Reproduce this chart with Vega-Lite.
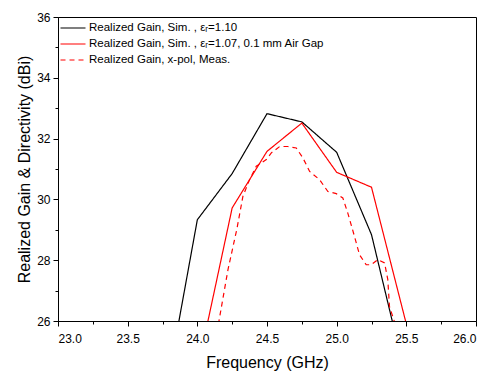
{
  "$schema": "https://vega.github.io/schema/vega-lite/v6.json",
  "width": 418,
  "height": 304,
  "autosize": {"type": "none"},
  "padding": {"left": 58, "top": 17, "right": 18, "bottom": 50},
  "background": "white",
  "config": {
    "font": "Liberation Sans",
    "view": {"stroke": "black", "strokeWidth": 1},
    "axis": {
      "grid": false,
      "domainColor": "black",
      "domainWidth": 1,
      "tickColor": "black",
      "tickWidth": 1,
      "tickSize": 5,
      "labelColor": "black",
      "labelFont": "Liberation Sans",
      "labelFontSize": 12,
      "titleColor": "black",
      "titleFont": "Liberation Sans",
      "titleFontSize": 16,
      "titleFontWeight": "normal"
    },
    "legend": {
      "labelFont": "Liberation Sans",
      "labelFontSize": 11.5,
      "labelColor": "black",
      "labelLimit": 400
    }
  },
  "data": {
    "values": [
      {"series": "Realized Gain, Sim. , εᵣ=1.10", "freq": 23.75, "gain": 23.03},
      {"series": "Realized Gain, Sim. , εᵣ=1.10", "freq": 24.0, "gain": 29.33},
      {"series": "Realized Gain, Sim. , εᵣ=1.10", "freq": 24.25, "gain": 30.85},
      {"series": "Realized Gain, Sim. , εᵣ=1.10", "freq": 24.5, "gain": 32.82},
      {"series": "Realized Gain, Sim. , εᵣ=1.10", "freq": 24.75, "gain": 32.55},
      {"series": "Realized Gain, Sim. , εᵣ=1.10", "freq": 25.0, "gain": 31.55},
      {"series": "Realized Gain, Sim. , εᵣ=1.10", "freq": 25.25, "gain": 28.84},
      {"series": "Realized Gain, Sim. , εᵣ=1.10", "freq": 25.5, "gain": 24.07},
      {"series": "Realized Gain, Sim. , εᵣ=1.07, 0.1 mm Air Gap", "freq": 24.0, "gain": 24.37},
      {"series": "Realized Gain, Sim. , εᵣ=1.07, 0.1 mm Air Gap", "freq": 24.25, "gain": 29.72},
      {"series": "Realized Gain, Sim. , εᵣ=1.07, 0.1 mm Air Gap", "freq": 24.5, "gain": 31.58},
      {"series": "Realized Gain, Sim. , εᵣ=1.07, 0.1 mm Air Gap", "freq": 24.75, "gain": 32.51},
      {"series": "Realized Gain, Sim. , εᵣ=1.07, 0.1 mm Air Gap", "freq": 25.0, "gain": 30.89},
      {"series": "Realized Gain, Sim. , εᵣ=1.07, 0.1 mm Air Gap", "freq": 25.25, "gain": 30.4},
      {"series": "Realized Gain, Sim. , εᵣ=1.07, 0.1 mm Air Gap", "freq": 25.5, "gain": 25.9},
      {"series": "Realized Gain, x-pol, Meas.", "freq": 24.14, "gain": 25.6},
      {"series": "Realized Gain, x-pol, Meas.", "freq": 24.22, "gain": 27.69},
      {"series": "Realized Gain, x-pol, Meas.", "freq": 24.284, "gain": 29.03},
      {"series": "Realized Gain, x-pol, Meas.", "freq": 24.327, "gain": 30.1},
      {"series": "Realized Gain, x-pol, Meas.", "freq": 24.375, "gain": 30.65},
      {"series": "Realized Gain, x-pol, Meas.", "freq": 24.423, "gain": 31.09},
      {"series": "Realized Gain, x-pol, Meas.", "freq": 24.495, "gain": 31.31},
      {"series": "Realized Gain, x-pol, Meas.", "freq": 24.531, "gain": 31.53},
      {"series": "Realized Gain, x-pol, Meas.", "freq": 24.591, "gain": 31.74},
      {"series": "Realized Gain, x-pol, Meas.", "freq": 24.65, "gain": 31.74},
      {"series": "Realized Gain, x-pol, Meas.", "freq": 24.71, "gain": 31.69},
      {"series": "Realized Gain, x-pol, Meas.", "freq": 24.758, "gain": 31.36},
      {"series": "Realized Gain, x-pol, Meas.", "freq": 24.806, "gain": 30.92},
      {"series": "Realized Gain, x-pol, Meas.", "freq": 24.877, "gain": 30.65},
      {"series": "Realized Gain, x-pol, Meas.", "freq": 24.937, "gain": 30.26},
      {"series": "Realized Gain, x-pol, Meas.", "freq": 24.997, "gain": 30.19},
      {"series": "Realized Gain, x-pol, Meas.", "freq": 25.044, "gain": 30.05},
      {"series": "Realized Gain, x-pol, Meas.", "freq": 25.08, "gain": 29.55},
      {"series": "Realized Gain, x-pol, Meas.", "freq": 25.128, "gain": 28.78},
      {"series": "Realized Gain, x-pol, Meas.", "freq": 25.164, "gain": 28.18},
      {"series": "Realized Gain, x-pol, Meas.", "freq": 25.212, "gain": 27.85},
      {"series": "Realized Gain, x-pol, Meas.", "freq": 25.248, "gain": 27.85},
      {"series": "Realized Gain, x-pol, Meas.", "freq": 25.296, "gain": 28.02},
      {"series": "Realized Gain, x-pol, Meas.", "freq": 25.344, "gain": 27.91},
      {"series": "Realized Gain, x-pol, Meas.", "freq": 25.367, "gain": 27.36},
      {"series": "Realized Gain, x-pol, Meas.", "freq": 25.379, "gain": 26.48},
      {"series": "Realized Gain, x-pol, Meas.", "freq": 25.42, "gain": 25.9}
    ]
  },
  "layer": [
    {
      "mark": {"type": "line", "clip": true, "strokeWidth": 1.2},
      "encoding": {
        "x": {
          "field": "freq", "type": "quantitative",
          "scale": {"domain": [23, 26], "nice": false, "zero": false},
          "axis": {
            "orient": "bottom",
            "title": "Frequency (GHz)",
            "values": [23, 23.5, 24, 24.5, 25, 25.5, 26],
            "format": ".1f",
            "labelPadding": 7,
            "titlePadding": 10
          }
        },
        "y": {
          "field": "gain", "type": "quantitative",
          "scale": {"domain": [26, 36], "nice": false, "zero": false},
          "axis": {
            "orient": "left",
            "title": "Realized Gain & Directivity (dBi)",
            "values": [26, 28, 30, 32, 34, 36],
            "format": "d",
            "labelPadding": 3,
            "titlePadding": 4
          }
        },
        "color": {
          "field": "series", "type": "nominal",
          "scale": {
            "domain": ["Realized Gain, Sim. , εᵣ=1.10", "Realized Gain, Sim. , εᵣ=1.07, 0.1 mm Air Gap", "Realized Gain, x-pol, Meas."],
            "range": ["#000000", "#ff0000", "#ff0000"]
          },
          "legend": {
            "title": null,
            "orient": "none",
            "legendX": 9,
            "legendY": 5,
            "symbolType": "M-2.5,0H2.5",
            "symbolSize": 100,
            "symbolStrokeWidth": 1.2,
            "labelOffset": 10,
            "rowPadding": 4,
            "padding": 0
          }
        },
        "strokeDash": {
          "field": "series", "type": "nominal",
          "scale": {
            "domain": ["Realized Gain, Sim. , εᵣ=1.10", "Realized Gain, Sim. , εᵣ=1.07, 0.1 mm Air Gap", "Realized Gain, x-pol, Meas."],
            "range": [[1, 0], [1, 0], [5, 4]]
          },
          "legend": {
            "title": null,
            "orient": "none",
            "legendX": 9,
            "legendY": 5,
            "symbolType": "M-2.5,0H2.5",
            "symbolSize": 100,
            "symbolStrokeWidth": 1.2,
            "labelOffset": 10,
            "rowPadding": 4,
            "padding": 0
          }
        }
      }
    },
    {
      "mark": {"type": "line", "strokeOpacity": 0, "clip": true},
      "encoding": {
        "x": {
          "field": "freq", "type": "quantitative",
          "axis": {
            "orient": "bottom",
            "title": null,
            "values": [23.25, 23.75, 24.25, 24.75, 25.25, 25.75],
            "labels": false,
            "domain": false,
            "tickSize": 3
          }
        },
        "y": {
          "field": "gain", "type": "quantitative",
          "axis": {
            "orient": "left",
            "title": null,
            "values": [27, 29, 31, 33, 35],
            "labels": false,
            "domain": false,
            "tickSize": 3
          }
        },
        "detail": {"field": "series", "type": "nominal"}
      }
    }
  ],
  "resolve": {"axis": {"x": "independent", "y": "independent"}}
}
